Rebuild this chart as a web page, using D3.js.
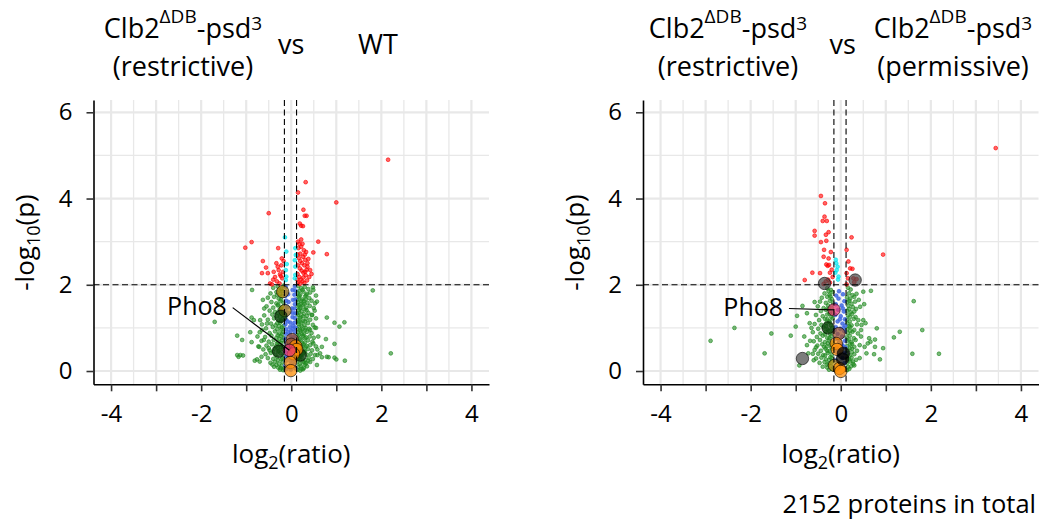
<!DOCTYPE html>
<html><head><meta charset="utf-8">
<script src="https://cdn.jsdelivr.net/npm/d3@7"></script>
<style>
body{margin:0;background:#fff;}
svg text{font-family:"Open Sans","Liberation Sans",sans-serif;fill:#000;}
</style></head><body>
<svg id="chart" width="1042" height="521"></svg>
<script>
// ---------------- data ----------------
const xTicks = [-4,-3,-2,-1,0,1,2,3,4];
const xTickLabels = ["-4","","-2","","0","","2","","4"];
const xMinor = [-3.5,-2.5,-1.5,-0.5,0.5,1.5,2.5,3.5];
const yTicks = [0,2,4,6];
const yTickLabels = ["0","2","4","6"];
const yMinor = [1,3,5];
const foldCutoffs = [-0.152, 0.118];
const pCutoff = 2;
const totalProteins = 2152;
const highlightGroups = ["goldenrod","darkgreen","tan","orange","pho8","grey","black"];
const highlightLabel = "Pho8";

// WT comparison (left panel): [log2 ratio, -log10 p]
const wtCore = [
[-0.40,1.93],[-0.30,1.96],[-0.22,1.90],[0.15,1.97],[0.22,1.92],[0.30,1.95],[0.38,1.90],[0.48,1.94],[-0.17,1.98],[0.18,1.86],
[-0.46,1.80],[-0.33,1.83],[-0.25,1.78],[0.14,1.82],[0.20,1.77],[0.27,1.84],[0.35,1.79],[0.42,1.82],[-0.19,1.85],
[-0.52,1.70],[-0.38,1.72],[-0.28,1.68],[-0.20,1.74],[0.16,1.71],[0.24,1.66],[0.31,1.73],[0.40,1.69],[0.13,1.65],
[-0.44,1.60],[-0.33,1.57],[-0.24,1.62],[-0.17,1.58],[0.15,1.60],[0.21,1.55],[0.28,1.62],[0.36,1.58],[0.45,1.63],
[-0.55,1.50],[-0.40,1.47],[-0.30,1.52],[-0.21,1.48],[0.14,1.50],[0.19,1.45],[0.26,1.53],[0.33,1.47],[0.41,1.51],[0.50,1.46],
[-0.48,1.40],[-0.36,1.37],[-0.26,1.42],[-0.18,1.36],[0.16,1.41],[0.23,1.38],[0.30,1.43],[0.38,1.35],[0.13,1.33],
[-0.60,1.29],[-0.42,1.31],[-0.32,1.27],[-0.22,1.33],[-0.16,1.26],[0.15,1.30],[0.21,1.25],[0.28,1.32],[0.35,1.28],[0.46,1.30],
[-0.52,1.19],[-0.38,1.22],[-0.28,1.17],[-0.19,1.21],[0.14,1.18],[0.19,1.23],[0.26,1.16],[0.33,1.21],[0.42,1.19],[0.55,1.22],
[-0.65,1.08],[-0.45,1.10],[-0.35,1.06],[-0.25,1.12],[-0.17,1.05],[0.16,1.09],[0.22,1.13],[0.29,1.06],[0.37,1.11],[0.48,1.07],
[-0.56,0.99],[-0.41,1.02],[-0.31,0.97],[-0.21,1.01],[0.13,0.98],[0.18,1.03],[0.25,0.96],[0.32,1.00],[0.40,0.98],[0.52,1.01],
[-0.70,0.90],[-0.48,0.88],[-0.36,0.92],[-0.27,0.87],[-0.18,0.91],[0.15,0.89],[0.21,0.93],[0.28,0.86],[0.35,0.91],[0.45,0.88],
[-0.58,0.79],[-0.44,0.82],[-0.33,0.77],[-0.23,0.81],[-0.16,0.76],[0.14,0.80],[0.19,0.75],[0.26,0.82],[0.33,0.78],[0.41,0.80],[0.50,0.77],
[-0.66,0.70],[-0.50,0.68],[-0.39,0.72],[-0.29,0.67],[-0.20,0.71],[0.16,0.69],[0.22,0.73],[0.30,0.66],[0.37,0.71],[0.47,0.68],
[-0.55,0.59],[-0.43,0.62],[-0.34,0.57],[-0.25,0.61],[-0.17,0.56],[0.13,0.60],[0.19,0.55],[0.27,0.62],[0.34,0.58],[0.42,0.60],[0.55,0.57],
[-0.62,0.50],[-0.48,0.48],[-0.37,0.52],[-0.28,0.47],[-0.19,0.51],[0.15,0.49],[0.22,0.53],[0.29,0.46],[0.37,0.51],[0.46,0.48],
[-0.57,0.39],[-0.45,0.42],[-0.35,0.37],[-0.24,0.41],[-0.17,0.36],[0.14,0.40],[0.20,0.35],[0.27,0.42],[0.34,0.38],[0.43,0.40],[0.58,0.37],
[-0.52,0.30],[-0.40,0.28],[-0.31,0.32],[-0.22,0.27],[0.16,0.29],[0.23,0.33],[0.31,0.26],[0.39,0.31],[0.48,0.28],
[-0.46,0.19],[-0.36,0.22],[-0.27,0.17],[-0.19,0.21],[0.13,0.20],[0.19,0.16],[0.26,0.22],[0.33,0.18],[0.42,0.21],
[-0.38,0.10],[-0.29,0.08],[-0.21,0.12],[-0.16,0.06],[0.15,0.09],[0.21,0.12],[0.28,0.07],[0.35,0.11],
[-0.25,0.03],[-0.18,0.02],[0.14,0.03],[0.20,0.01],[0.26,0.04],
[-0.27,1.88],[0.25,1.88],[-0.31,1.76],[0.18,1.74],[0.33,1.76],[-0.23,1.66],[0.22,1.63],[0.32,1.66],[-0.29,1.54],[0.17,1.53],
[0.29,1.56],[-0.23,1.45],[0.21,1.47],[0.34,1.41],[-0.30,1.35],[0.18,1.35],[0.26,1.27],[-0.25,1.26],[0.17,1.14],[0.31,1.15],
[-0.22,1.16],[-0.31,1.11],[0.23,1.04],[-0.27,1.04],[0.20,0.95],[-0.22,0.96],[0.31,0.95],[0.24,0.85],[-0.30,0.83],[-0.20,0.85],
[0.17,0.84],[0.30,0.76],[-0.26,0.75],[0.24,0.65],[-0.32,0.64],[-0.22,0.65],[0.18,0.63],[0.32,0.55],[-0.30,0.54],[0.25,0.56],
[-0.23,0.56],[0.18,0.44],[-0.29,0.45],[0.30,0.45],[-0.40,0.45],[0.23,0.38],[-0.20,0.30],[-0.30,0.25],[0.20,0.26],[0.29,0.20],
[-0.33,0.14],[0.23,0.05],[-0.24,0.07],[0.31,0.15],[-0.42,0.15],[0.38,0.24]
];
const wtScatter = [
[1.81,1.87],[-1.70,1.14],[-0.87,1.88],[-1.20,0.82],[-1.09,0.72],[-0.88,1.24],[-0.88,0.67],[-1.20,0.37],[-1.13,0.37],[-1.07,0.36],
[-1.17,0.33],[-0.81,0.24],[-0.76,0.27],[-0.70,0.22],[-0.66,0.33],[-0.83,1.18],[-0.69,1.18],[-0.71,0.56],[-0.61,0.72],[-0.54,1.10],
[-0.50,0.53],[0.79,1.24],[0.96,1.12],[1.07,1.03],[1.18,1.13],[0.77,0.74],[0.96,0.63],[2.21,0.41],[1.19,0.24],[0.96,0.31],
[0.79,0.33],[0.57,0.14],[0.57,1.61],[0.53,1.57],[0.49,1.88],[0.46,1.30],[0.42,0.95],[0.49,0.64],[0.68,0.56],[0.64,0.41],
[0.53,0.37],[-0.91,0.90],[-0.73,0.57],[1.00,0.27],[0.83,0.32],[0.68,0.32],[-0.60,1.45],[-0.63,1.65],[0.55,1.00],[0.60,0.80],
[-0.75,0.80],[-0.65,0.95],[0.55,1.75],[0.52,1.40],[0.58,0.50]
];
const wtSignificant = [
[2.15,4.90],[0.32,4.38],[0.15,4.14],[1.00,3.91],[-0.50,3.66],[0.27,3.74],[0.30,3.60],[0.34,3.60],[0.19,3.42],[0.22,3.37],
[0.26,3.36],[-0.88,2.99],[-1.02,2.86],[-0.29,2.85],[0.60,3.00],[0.79,2.71],[0.49,2.75],[-0.63,2.55],[-0.21,2.61],
[-0.33,2.50],[-0.65,2.27],[-0.52,2.27],[-0.39,2.30],[-0.28,2.34],[-0.36,2.18],[-0.25,2.24],[-0.43,2.01],[-0.47,2.03],[-0.30,2.42],
[-0.22,2.45],[-0.18,2.30],[-0.20,2.15],[-0.32,2.08],[-0.26,2.03],[-0.40,2.12],[-0.17,2.55],[-0.23,2.20],[-0.56,2.40],
[0.42,2.34],[0.36,2.42],[0.38,2.60],[0.30,2.70],[0.25,2.95],[0.28,2.80],[0.22,2.88],[0.33,2.76],[0.14,2.70],[0.17,2.62],
[0.20,2.55],[0.24,2.50],[0.29,2.45],[0.15,2.45],[0.19,2.38],[0.23,2.33],[0.27,2.28],[0.32,2.22],[0.14,2.25],[0.18,2.18],
[0.21,2.12],[0.25,2.08],[0.29,2.04],[0.35,2.10],[0.15,2.05],[0.19,2.02],[0.13,2.12],[0.40,2.18],[0.45,2.25],[0.16,2.85],
[0.20,2.72],[0.26,2.65],[0.31,2.58],[0.36,2.50],[0.15,3.00],[0.22,3.05],[0.18,2.95],[0.34,2.35],[0.27,2.17],[0.31,2.30]
];
const wtBand = [
[-0.12,1.95],[-0.11,1.84],[-0.13,1.74],[-0.11,1.63],[-0.12,1.51],[-0.13,1.41],[-0.11,1.30],[-0.12,1.19],[-0.13,1.08],[-0.11,0.97],
[-0.12,0.86],[-0.13,0.75],[-0.11,0.65],[-0.12,0.54],[-0.13,0.44],[-0.11,0.34],[-0.12,0.23],[-0.13,0.13],[-0.11,0.04],
[0.08,1.97],[0.09,1.87],[0.07,1.77],[0.09,1.66],[0.08,1.55],[0.07,1.45],[0.09,1.34],[0.08,1.23],[0.07,1.12],[0.09,1.01],
[0.08,0.91],[0.07,0.80],[0.09,0.69],[0.08,0.58],[0.07,0.48],[0.09,0.37],[0.08,0.27],[0.07,0.16],[0.09,0.06],
[-0.02,1.12],[-0.03,1.02],[-0.01,0.93],[-0.02,0.83],[-0.03,0.73],[-0.01,0.63],[-0.02,0.53],[-0.03,0.43],[-0.01,0.33],[-0.02,0.23],
[-0.03,0.13],[-0.01,0.03],[-0.06,1.60],[-0.07,1.35],[0.03,1.88],[0.02,1.45],[0.03,1.25],
[-0.07,0.90],[0.04,0.78],[-0.07,0.58],[0.04,0.50],[-0.07,0.30],[0.04,0.20],[-0.07,0.10],[0.04,1.05],[-0.08,1.15],[0.04,0.98],
[-0.07,1.78],[0.04,1.65],[-0.08,1.48],[0.03,1.35]
];
const wtBandSignificant = [
[-0.14,3.10],[-0.11,2.77],[-0.10,2.48],[-0.12,2.34],[-0.11,2.19],[-0.12,2.11],[0.09,2.85],[0.10,2.69],[0.08,2.57],[0.09,2.42],[0.09,2.23],[0.08,2.15]
];
const wtHighlights = [
[-0.19,1.84,"goldenrod"],[-0.14,1.40,"goldenrod"],[-0.23,1.27,"darkgreen"],[0.02,0.73,"tan"],[0.00,0.62,"tan"],
[-0.28,0.46,"darkgreen"],[0.20,0.37,"darkgreen"],[0.10,0.58,"orange"],[0.12,0.50,"orange"],[0.05,0.40,"orange"],
[-0.02,0.20,"orange"],[-0.01,0.01,"orange"],[-0.04,0.48,"pho8"]
];

// permissive comparison (right panel)
const permCore = [
[-0.30,1.92],[-0.22,1.88],[0.16,1.93],[0.22,1.89],
[-0.36,1.80],[-0.25,1.77],[-0.18,1.83],[0.18,1.80],[0.26,1.76],
[-0.42,1.70],[-0.30,1.72],[-0.20,1.67],[0.14,1.71],[0.21,1.68],[0.30,1.72],
[-0.46,1.61],[-0.33,1.58],[-0.24,1.63],[-0.17,1.57],[0.15,1.60],[0.24,1.56],
[-0.51,1.50],[-0.38,1.46],[-0.28,1.52],[-0.20,1.47],[0.17,1.51],[0.27,1.48],[0.34,1.44],
[-0.44,1.39],[-0.33,1.42],[-0.24,1.37],[-0.17,1.35],[0.14,1.40],[0.22,1.36],[0.30,1.38],
[-0.55,1.30],[-0.40,1.27],[-0.30,1.31],[-0.21,1.26],[0.16,1.29],[0.25,1.32],[0.33,1.25],
[-0.48,1.18],[-0.35,1.21],[-0.26,1.16],[-0.18,1.22],[0.13,1.19],[0.20,1.15],[0.29,1.21],
[-0.58,1.09],[-0.43,1.07],[-0.32,1.11],[-0.22,1.06],[0.15,1.10],[0.24,1.06],[0.36,1.08],
[-0.50,0.98],[-0.38,1.01],[-0.29,0.96],[-0.19,1.00],[0.14,0.97],[0.21,1.02],[0.30,0.95],
[-0.62,0.90],[-0.45,0.87],[-0.34,0.91],[-0.24,0.86],[-0.17,0.92],[0.16,0.88],[0.26,0.91],[0.38,0.87],
[-0.53,0.79],[-0.40,0.82],[-0.30,0.77],[-0.21,0.81],[0.13,0.78],[0.20,0.82],[0.29,0.76],[0.45,0.80],
[-0.60,0.69],[-0.46,0.72],[-0.35,0.67],[-0.26,0.71],[-0.18,0.66],[0.15,0.70],[0.24,0.67],[0.33,0.72],
[-0.52,0.59],[-0.41,0.62],[-0.31,0.57],[-0.22,0.61],[0.14,0.58],[0.21,0.62],[0.30,0.56],[0.42,0.60],
[-0.58,0.49],[-0.44,0.47],[-0.34,0.52],[-0.25,0.46],[-0.17,0.51],[0.16,0.48],[0.25,0.52],[0.36,0.47],
[-0.50,0.40],[-0.39,0.37],[-0.29,0.42],[-0.20,0.38],[0.13,0.41],[0.20,0.36],[0.30,0.39],
[-0.55,0.29],[-0.43,0.31],[-0.33,0.27],[-0.23,0.32],[0.15,0.28],[0.24,0.31],[0.34,0.26],
[-0.47,0.19],[-0.36,0.21],[-0.27,0.17],[-0.19,0.22],[0.14,0.18],[0.21,0.22],[0.28,0.16],
[-0.40,0.10],[-0.30,0.08],[-0.22,0.12],[0.16,0.09],[0.23,0.11],
[-0.26,0.03],[-0.18,0.04],[0.14,0.02],[0.19,0.05],
[-0.27,1.85],[-0.23,1.73],[0.19,1.63],[-0.28,1.44],[0.19,1.44],[-0.25,1.33],[0.20,1.25],[-0.30,1.20],[-0.24,1.13],[0.18,1.04],
[-0.33,1.04],[-0.26,0.93],[0.21,0.93],[-0.35,0.85],[-0.25,0.76],[0.18,0.73],[-0.29,0.64],[0.25,0.63],[-0.37,0.56],[-0.21,0.55],
[0.20,0.53],[-0.30,0.47],[0.25,0.44],[-0.35,0.36],[-0.26,0.25],[0.19,0.27],[-0.31,0.15],[0.27,0.22],[-0.20,0.30],[0.30,0.13]
];
const permScatter = [
[-2.89,0.70],[-2.36,1.00],[-1.69,0.41],[-1.54,0.87],[-1.11,0.82],[-1.00,1.03],[-0.85,1.51],[-0.97,1.28],[-0.75,1.34],[-0.69,1.11],
[-0.81,0.80],[-0.92,0.13],[-0.75,0.60],[-0.72,0.41],[-0.55,0.55],[-0.62,0.40],[0.67,1.86],[0.50,1.84],[0.35,1.79],[0.32,1.61],
[0.52,1.55],[0.43,1.49],[0.39,1.18],[0.50,1.18],[0.55,1.11],[0.46,1.07],[0.80,0.99],[0.63,0.76],[0.66,0.68],[0.76,0.73],
[0.76,0.56],[0.94,0.53],[0.87,0.27],[0.74,0.39],[0.57,0.41],[0.53,0.56],[0.60,0.64],[1.18,0.78],[1.31,0.91],[1.62,1.62],
[1.81,0.95],[1.59,0.40],[2.18,0.40],[0.45,0.95],[0.42,0.30],[-0.65,1.00],[-0.60,0.25],[-0.68,0.70],[0.40,1.65],[-0.58,1.60]
];
const permSignificant = [
[3.44,5.17],[-0.44,4.06],[-0.35,3.89],[-0.36,3.58],[-0.40,3.48],[-0.31,3.48],[-0.58,3.25],[-0.58,3.14],[-0.27,3.22],[-0.33,3.16],
[0.24,3.10],[-0.44,2.99],[-0.32,3.02],[-0.37,2.81],[-0.22,2.76],[0.13,2.81],[0.94,2.70],[-0.38,2.65],[-0.27,2.61],[-0.32,2.47],
[-0.29,2.44],[-0.26,2.46],[0.17,2.54],[0.21,2.38],[0.26,2.37],[-0.63,2.28],[-0.46,2.27],[-0.24,2.28],[-0.80,2.11],[-0.33,2.08],
[-0.28,2.12],[-0.38,2.02],[-0.24,2.05],[0.30,2.06],[0.35,2.13],[0.28,2.15],[0.13,2.01],[0.16,2.15],[0.13,2.27],[-0.20,2.35],[-0.18,2.18]
];
const permBand = [
[-0.10,1.75],[0.05,1.78],[-0.05,1.68],[0.08,1.62],[-0.11,1.55],[0.02,1.52],[-0.06,1.42],[0.07,1.38],[-0.12,1.30],[0.00,1.27],
[0.09,1.20],[-0.07,1.15],[0.04,1.10],[-0.11,1.02],[-0.01,0.98],[0.08,0.92],[-0.07,0.86],[0.03,0.80],[-0.12,0.75],[0.09,0.70],
[-0.03,0.66],[0.05,0.58],[-0.09,0.55],[0.00,0.46],[0.09,0.42],[-0.06,0.38],[0.04,0.30],[-0.11,0.25],[0.08,0.18],[-0.02,0.15],
[0.05,1.45],[-0.04,1.85],[0.10,1.05],[-0.13,0.95],[-0.10,0.45],[0.10,0.55],[-0.02,1.20],[0.06,1.00],[-0.05,0.72],[0.02,0.62]
];
const permBandSignificant = [
[-0.10,2.50],[-0.09,2.34],[-0.05,2.19],[-0.07,2.42],[-0.12,2.28],[-0.06,2.12],[-0.11,2.58]
];
const permHighlights = [
[-0.36,2.03,"grey"],[0.32,2.11,"grey"],[-0.85,0.29,"grey"],[-0.28,1.00,"darkgreen"],[-0.04,0.87,"tan"],
[-0.10,0.64,"orange"],[-0.08,0.50,"orange"],[-0.14,0.13,"goldenrod"],[-0.03,0.06,"orange"],[0.00,-0.01,"orange"],
[0.06,0.41,"black"],[0.04,0.28,"black"],[-0.15,1.42,"pho8"]
];

// ---------------- layout / style ----------------
const svg = d3.select("#chart");
const xDomain = [-4.39, 4.39], yDomain = [-0.308, 6.285];
const panelTop = 100, panelBottom = 384.3, panelWidth = 395.5;
const pointColor = {ns:"#228B22", band:"#4169E1", sig:"#FF0000", bandSig:"#00E5EE"};
const pointOpacity = {ns:0.6, band:0.85, sig:0.6, bandSig:0.7};
const hlColor = d3.scaleOrdinal().domain(highlightGroups)
  .range(["#B8860B","#0A3A0A","#A0522D","#FF8C00","#E8336E","#4A4A4A","#000000"]);

function drawPanel(cfg){
  const x = d3.scaleLinear().domain(xDomain).range([cfg.left, cfg.left+panelWidth]);
  const y = d3.scaleLinear().domain(yDomain).range([panelBottom, panelTop]);
  const g = svg.append("g");
  // grid
  const grid = g.append("g").attr("stroke","#E8E8E8");
  grid.selectAll(".vmin").data(xMinor).join("line").attr("stroke-width",1.3)
    .attr("x1",d=>x(d)).attr("x2",d=>x(d)).attr("y1",panelTop).attr("y2",panelBottom);
  grid.selectAll(".hmin").data(yMinor).join("line").attr("stroke-width",1.3)
    .attr("y1",d=>y(d)).attr("y2",d=>y(d)).attr("x1",cfg.left).attr("x2",cfg.left+panelWidth);
  grid.selectAll(".vmaj").data(xTicks).join("line").attr("stroke-width",2.2)
    .attr("x1",d=>x(d)).attr("x2",d=>x(d)).attr("y1",panelTop).attr("y2",panelBottom);
  grid.selectAll(".hmaj").data(yTicks).join("line").attr("stroke-width",2.2)
    .attr("y1",d=>y(d)).attr("y2",d=>y(d)).attr("x1",cfg.left).attr("x2",cfg.left+panelWidth);

  const cls = d => (d[0]>foldCutoffs[0] && d[0]<foldCutoffs[1])
      ? (d[1]>pCutoff ? "bandSig" : "band") : (d[1]>pCutoff ? "sig" : "ns");
  const layers = [cfg.ns, cfg.band, cfg.sig, cfg.bandSig];
  layers.forEach(arr=>{
    g.append("g").selectAll("circle").data(arr).join("circle")
      .attr("cx",d=>x(d[0])).attr("cy",d=>y(d[1])).attr("r",1.9)
      .attr("fill",d=>pointColor[cls(d)]).attr("fill-opacity",d=>pointOpacity[cls(d)])
      .attr("stroke",d=>pointColor[cls(d)]).attr("stroke-opacity",0.7).attr("stroke-width",0.9);
  });
  // highlighted proteins
  g.append("g").selectAll("circle").data(cfg.hl).join("circle")
    .attr("cx",d=>x(d[0])).attr("cy",d=>y(d[1])).attr("r",6.2)
    .attr("fill",d=>hlColor(d[2])).attr("fill-opacity",0.72)
    .attr("stroke","#000").attr("stroke-opacity",0.75).attr("stroke-width",0.8);

  // cutoff lines
  const dash = g.append("g").attr("stroke","#000").attr("stroke-width",1.1).attr("stroke-dasharray","6,3.5");
  dash.selectAll(".v").data(foldCutoffs).join("line")
    .attr("x1",d=>x(d)).attr("x2",d=>x(d)).attr("y1",panelTop).attr("y2",panelBottom);
  dash.append("line").attr("x1",cfg.left).attr("x2",cfg.left+panelWidth)
    .attr("y1",y(pCutoff)).attr("y2",y(pCutoff));

  // axes
  const xa = g.append("g").attr("transform",`translate(0,${panelBottom})`)
    .call(d3.axisBottom(x).tickValues(xTicks).tickFormat((d,i)=>xTickLabels[i]).tickSize(7).tickSizeOuter(0).tickPadding(14));
  const ya = g.append("g").attr("transform",`translate(${cfg.left},0)`)
    .call(d3.axisLeft(y).tickValues(yTicks).tickFormat((d,i)=>yTickLabels[i]).tickSize(7).tickSizeOuter(0).tickPadding(14));
  [xa,ya].forEach(a=>{
    a.select(".domain").attr("stroke","#000").attr("stroke-width",1.6);
    a.selectAll(".tick line").attr("stroke","#333").attr("stroke-width",1.6);
    a.selectAll(".tick text").attr("font-size",24).attr("fill","#000")
      .style("font-family",'"Open Sans","Liberation Sans",sans-serif');
  });

  // label of Pho8
  const pho = cfg.hl.find(d=>d[2]==="pho8");
  g.append("line").attr("x1",x(cfg.labelAt[0]+0.13)).attr("y1",y(cfg.labelAt[1]+0.17))
    .attr("x2",x(pho[0])).attr("y2",y(pho[1])).attr("stroke","#000").attr("stroke-width",1.2);
  g.append("text").attr("x",x(cfg.labelAt[0])).attr("y",y(cfg.labelAt[1]))
    .attr("text-anchor","end").attr("font-size",25).text(highlightLabel);

  // axis titles
  const xt = g.append("text").attr("x",x(0)).attr("y",462.7).attr("text-anchor","middle").attr("font-size",26);
  xt.append("tspan").text("log");
  xt.append("tspan").attr("font-size",18).attr("dy",6).text("2");
  xt.append("tspan").attr("dy",-6).text("(ratio)");
  const yt = g.append("text").attr("transform",`translate(${cfg.left-59.5},242.5) rotate(-90)`)
    .attr("text-anchor","middle").attr("font-size",26);
  yt.append("tspan").text("-log");
  yt.append("tspan").attr("font-size",18).attr("dy",6).text("10");
  yt.append("tspan").attr("dy",-6).text("(p)");
  return x;
}

function strainTitle(cx, parenth){
  const t = svg.append("text").attr("x",cx).attr("y",38).attr("text-anchor","middle").attr("font-size",27);
  t.append("tspan").text("Clb2");
  t.append("tspan").attr("font-size",19).attr("dy",-15).text("ΔDB");
  t.append("tspan").attr("dy",15).text("-psd");
  t.append("tspan").attr("font-size",19).attr("dy",-8).text("3");
  svg.append("text").attr("x",cx).attr("y",76).attr("text-anchor","middle").attr("font-size",27).text(parenth);
}

const xL = drawPanel({left:93.5, ns:[...wtCore,...wtScatter], band:wtBand, sig:wtSignificant, bandSig:wtBandSignificant,
  hl:wtHighlights, labelAt:[-1.43,1.30]});
const xR = drawPanel({left:643, ns:[...permCore,...permScatter], band:permBand, sig:permSignificant, bandSig:permBandSignificant,
  hl:permHighlights, labelAt:[-1.28,1.28]});

// titles
strainTitle(183, "(restrictive)");
svg.append("text").attr("x",xL(0)).attr("y",54).attr("text-anchor","middle").attr("font-size",27).text("vs");
svg.append("text").attr("x",378).attr("y",54).attr("text-anchor","middle").attr("font-size",27).text("WT");
strainTitle(728, "(restrictive)");
svg.append("text").attr("x",xR(0)+2).attr("y",54).attr("text-anchor","middle").attr("font-size",27).text("vs");
strainTitle(953, "(permissive)");

svg.append("text").attr("x",1036).attr("y",513).attr("text-anchor","end").attr("font-size",25.5)
  .text(`${totalProteins} proteins in total`);
</script></body></html>
